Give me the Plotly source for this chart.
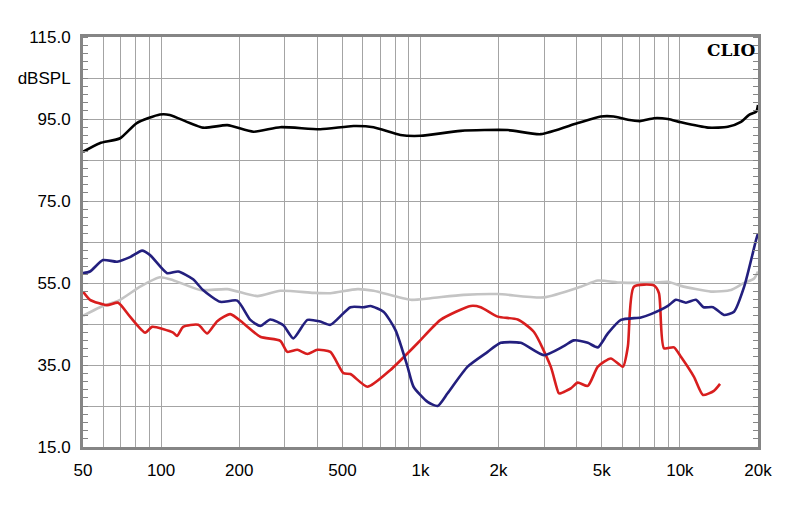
import plotly.graph_objects as go
import math

# ---- data (frequency in Hz, level in dB SPL) ----
black_f = [50, 58, 69.5, 80.6, 99, 108, 145, 180, 227, 288, 411, 552, 659, 837, 1000,
           1428, 2168, 2906, 4038, 4955, 5560, 6300, 7075, 7936, 8990, 10090, 12830,
           15300, 17200, 18480, 19700, 20000]
black_db = [87.0, 89.1, 90.3, 94.0, 96.1, 96.0, 92.9, 93.5, 91.9, 93.0, 92.5, 93.3, 93.0,
            91.1, 90.9, 92.1, 92.3, 91.3, 94.0, 95.6, 95.6, 94.8, 94.5, 95.2, 95.0, 94.2,
            92.9, 93.1, 94.3, 96.0, 96.8, 98.4]

gray_f = [50, 58.2, 69.5, 83.0, 99, 111.3, 141.5, 180, 234.9, 288, 386.4, 449.4, 571.3,
          659, 915, 1094, 1466, 1984, 2987, 4149, 4827, 5922, 7936, 8990, 10090, 13180,
          15740, 17520, 19320, 20000]
gray_db = [47.0, 49.1, 50.9, 54.1, 56.4, 55.7, 53.3, 53.5, 51.8, 53.1, 52.6, 52.5, 53.5,
           53.1, 50.9, 51.3, 52.1, 52.3, 51.5, 54.1, 55.6, 55.1, 55.1, 55.3, 54.3, 52.9,
           53.3, 54.9, 56.1, 57.8]

blue_f = [50, 53.2, 59.7, 67.7, 75.9, 84.5, 90.7, 105.5, 116.4, 132.9, 145, 169.0, 196.6,
          220.8, 241.2, 263.6, 296, 323.5, 366.4, 411, 449.4, 536.9, 602.8, 641.5, 720,
          801, 891, 940, 1065, 1164, 1272, 1519, 1815, 2037, 2434, 2987, 3567, 3899,
          4416, 4827, 5276, 5922, 7075, 7730, 8990, 9654, 10550, 11530, 12330, 13420,
          14790, 16170, 17690, 19660, 20000]
blue_db = [57.4, 57.8, 60.6, 60.2, 61.3, 62.9, 61.8, 57.4, 57.8, 55.9, 53.3, 50.4, 50.7,
           46.0, 44.5, 46.1, 44.7, 41.5, 46.0, 45.6, 44.8, 49.1, 49.1, 49.4, 48.0, 43.5,
           34.6, 29.7, 26.0, 25.0, 28.1, 34.6, 38.2, 40.4, 40.4, 37.4, 39.6, 41.0, 40.4,
           39.3, 42.7, 46.0, 46.6, 47.4, 49.4, 50.9, 50.2, 50.9, 49.1, 49.1, 47.2, 48.0,
           54.1, 65.5, 67.1]

red_f = [50, 53.2, 61.9, 68.3, 75.9, 86.8, 92.3, 111.3, 115.3, 121.6, 139.0, 150.6, 164.6,
         184.7, 207.4, 241.2, 288, 306.7, 335.2, 366.4, 400.5, 449.4, 504.5, 536.9, 624.6,
         766, 974, 1195, 1561, 1706, 1984, 2370, 2733, 3178, 3412, 3473, 3796, 4038,
         4416, 4827, 5417, 6028, 6300, 6646, 7936, 8303, 8679, 9485, 10090, 11330,
         12270, 13520, 14280]
red_db = [52.9, 50.9, 49.6, 50.2, 46.8, 42.9, 44.3, 42.9, 42.1, 44.3, 44.8, 42.7, 45.7,
          47.4, 45.2, 41.9, 40.9, 38.2, 38.7, 37.7, 38.7, 38.2, 33.0, 32.8, 29.7, 33.8,
          40.3, 46.0, 49.4, 49.1, 46.8, 46.1, 43.1, 34.6, 28.1, 28.1, 29.3, 30.7, 29.9,
          34.6, 36.6, 34.6, 39.5, 54.1, 54.4, 52.5, 39.1, 39.3, 37.0, 32.1, 27.7, 28.7,
          30.4]

y_ticks = [15, 25, 35, 45, 55, 65, 75, 85, 95, 105, 115]
y_labels = ["15.0", "", "35.0", "", "55.0", "", "75.0", "", "95.0", "dBSPL", "115.0"]

x_grid = [50, 60, 70, 80, 90, 100, 200, 300, 400, 500, 600, 700, 800, 900,
          1000, 2000, 3000, 4000, 5000, 6000, 7000, 8000, 9000, 10000, 20000]
x_label_map = {50: "50", 100: "100", 200: "200", 500: "500", 1000: "1k",
               2000: "2k", 5000: "5k", 10000: "10k", 20000: "20k"}
x_labels = [x_label_map.get(v, "") for v in x_grid]

series = [
    (gray_f, gray_db, "#c4c4c4"),
    (red_f, red_db, "#d81e1e"),
    (blue_f, blue_db, "#231f7e"),
    (black_f, black_db, "#000000"),
]

fig = go.Figure()
for fx, fy, col in series:
    fig.add_trace(go.Scatter(x=fx, y=fy, mode="lines",
                             line=dict(color=col, width=2.6, shape="spline", smoothing=0.6),
                             hoverinfo="skip", showlegend=False))

axis_font = dict(family="Liberation Sans, Arial, sans-serif", size=17, color="#000000")

fig.update_layout(
    width=800, height=506,
    margin=dict(l=83, r=42, t=37, b=59),
    paper_bgcolor="white", plot_bgcolor="white",
    showlegend=False,
    xaxis=dict(type="log", range=[math.log10(50), math.log10(20000)],
               tickmode="array", tickvals=x_grid, ticktext=x_labels,
               showgrid=True, gridcolor="#a4a4a4", gridwidth=1.2,
               showline=True, linecolor="#858585", linewidth=3, mirror=True,
               ticks="", tickfont=axis_font, ticklabelstandoff=6, zeroline=False),
    yaxis=dict(range=[15, 115], tickmode="array", tickvals=y_ticks, ticktext=y_labels,
               showgrid=True, gridcolor="#a4a4a4", gridwidth=1.2,
               showline=True, linecolor="#858585", linewidth=3, mirror="allticks",
               ticks="", tickfont=axis_font, ticklabelstandoff=6, zeroline=False,
               minor=dict(ticks="inside", dtick=2, tick0=15, ticklen=5,
                          tickcolor="#858585", tickwidth=1, showgrid=False)),
    annotations=[dict(text="<b>CLIO</b>", xref="paper", yref="paper", x=0.998, y=0.998,
                      xanchor="right", yanchor="top", showarrow=False,
                      font=dict(family="DejaVu Serif, Liberation Serif, serif", size=17,
                                color="#000000"))],
)

fig.write_html("out.html")
